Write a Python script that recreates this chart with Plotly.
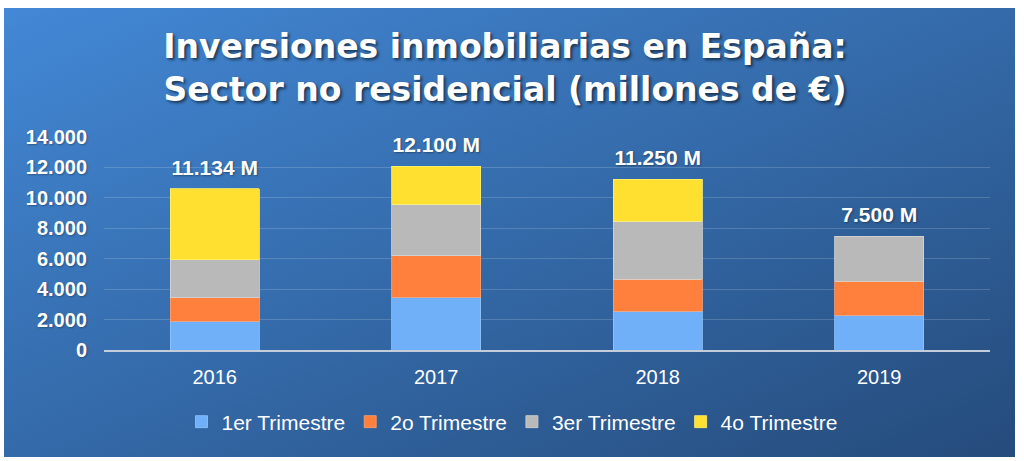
import base64
import plotly.graph_objects as go

# ---- data ----
years = ["2016", "2017", "2018", "2019"]
series_names = ["1er Trimestre", "2o Trimestre", "3er Trimestre", "4o Trimestre"]
q1 = [1900, 3470, 2530, 2290]
q2 = [1520, 2700, 2110, 2220]
q3 = [2510, 3380, 3800, 2950]
q4 = [4650, 2500, 2760, None]
total_labels = ["11.134 M", "12.100 M", "11.250 M", "7.500 M"]
y_tickvals = [0, 2000, 4000, 6000, 8000, 10000, 12000, 14000]
y_ticktext = ["0", "2.000", "4.000", "6.000", "8.000", "10.000", "12.000", "14.000"]

colors = ["#6fb0f8", "#ff803c", "#b9b9b9", "#ffe030"]
line_colors = ["#8ec6ff", "#ffa070", "#d6d6d6", "#fff070"]

W, H = 1024, 461

# gradient background panel as an SVG image
svg = f'''<svg xmlns="http://www.w3.org/2000/svg" width="1011" height="449" viewBox="0 0 1011 449">
<defs><linearGradient id="g" x1="0" y1="0" x2="1" y2="1">
<stop offset="0" stop-color="#4388d6"/>
<stop offset="0.5" stop-color="#346aa9"/>
<stop offset="1" stop-color="#254b7b"/>
</linearGradient></defs>
<rect x="0" y="0" width="1011" height="449" fill="url(#g)"/>
</svg>'''
src = "data:image/svg+xml;base64," + base64.b64encode(svg.encode()).decode()

fig = go.Figure()
for name, vals, c, lc in zip(series_names, [q1, q2, q3, q4], colors, line_colors):
    fig.add_trace(go.Bar(
        x=years, y=vals, name=name,
        marker=dict(color=c, line=dict(color=lc, width=0.8)),
    ))

totals = [sum(v for v in vals if v is not None) for vals in zip(q1, q2, q3, q4)]
fig.add_trace(go.Scatter(
    x=years, y=totals, text=total_labels, mode="markers+text", textposition="top center",
    marker=dict(size=12, color="rgba(0,0,0,0)"),
    textfont=dict(family="Arial, Liberation Sans", size=21, color="white", weight="bold",
                  shadow="1px 1px 2px rgba(0,0,0,0.35)"),
    showlegend=False, hoverinfo="skip", cliponaxis=False,
))

fig.update_layout(
    width=W, height=H, autosize=False,
    margin=dict(l=0, r=0, t=0, b=0),
    paper_bgcolor="white",
    plot_bgcolor="rgba(0,0,0,0)",
    barmode="stack",
    bargap=0.6,
    autotypenumbers="strict",
    images=[dict(source=src, xref="paper", yref="paper",
                 x=4 / W, y=1 - 8 / H, sizex=1011 / W, sizey=449 / H,
                 xanchor="left", yanchor="top", sizing="stretch", layer="below")],
    title=dict(
        text="Inversiones inmobiliarias en España:<br>Sector no residencial (millones de €)",
        x=505 / W, xanchor="center", y=1 - 58 / H, yanchor="middle",
        font=dict(family="DejaVu Sans", size=33, color="white", weight="bold",
                  shadow="2px 2px 3px rgba(0,0,0,0.55)"),
    ),
    xaxis=dict(
        type="category", range=[-0.5, 3.5],
        domain=[104 / W, 990 / W],
        showline=True, linecolor="#c3cddb", linewidth=2,
        showgrid=False, ticks="", ticklabelstandoff=8,
        tickfont=dict(family="Arial, Liberation Sans", size=20, color="white"),
        automargin=False, fixedrange=True,
    ),
    yaxis=dict(
        domain=[(H - 350) / H, (H - 136.5) / H],
        range=[0, 14000],
        tickvals=y_tickvals, ticktext=y_ticktext,
        showgrid=True, gridcolor="rgba(255,255,255,0.17)", gridwidth=1,
        zeroline=False, showline=False, ticks="", ticklabelstandoff=16,
        tickfont=dict(family="Arial, Liberation Sans", size=20, color="white", weight="bold",
                      shadow="1px 1px 2px rgba(0,0,0,0.3)"),
        automargin=False, fixedrange=True,
    ),
    legend=dict(
        orientation="h", x=0.5, xanchor="center", y=(H - 422) / H, yanchor="middle",
        traceorder="normal", bgcolor="rgba(0,0,0,0)",
        font=dict(family="Arial, Liberation Sans", size=21, color="white"),
    ),
    showlegend=True,
)

fig.write_html("out.html", config={"displayModeBar": False},
               post_script="document.body.style.margin='0';document.body.style.overflow='hidden';")
